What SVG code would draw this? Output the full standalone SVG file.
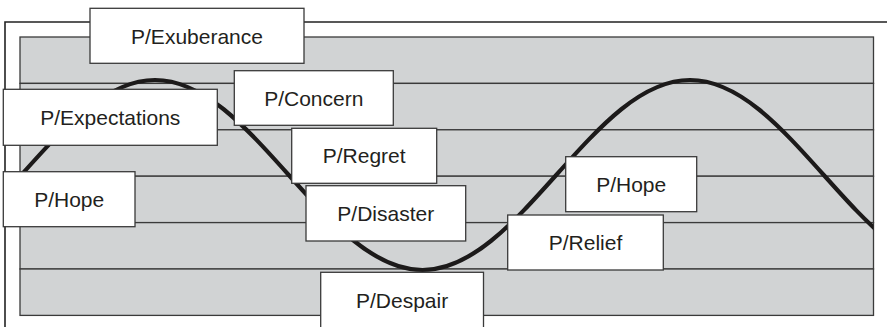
<svg xmlns="http://www.w3.org/2000/svg" width="887" height="327" viewBox="0 0 887 327">
<style>
.frame{fill:none;stroke:#222;stroke-width:1.6}
.band{fill:#d1d3d4;stroke:#3a3a3a;stroke-width:1.3}
.curve{fill:none;stroke:#1c1a1a;stroke-width:4.2}
.box rect{fill:#fff;stroke:#3a3a3a;stroke-width:1.3}
.box text{font-family:"Liberation Sans",Arial,Helvetica,sans-serif;font-size:21px;fill:#231f20;text-anchor:middle}
</style>
<defs>
<clipPath id="plot"><rect x="20" y="20" width="853.5" height="300"/></clipPath>
</defs>
<g id="background">
<path class="frame" d="M5,327 V22 H887"/>
<rect class="band" x="20" y="37" width="853.5" height="46.4"/>
<rect class="band" x="20" y="83.4" width="853.5" height="46.4"/>
<rect class="band" x="20" y="129.8" width="853.5" height="46.4"/>
<rect class="band" x="20" y="176.2" width="853.5" height="46.4"/>
<rect class="band" x="20" y="222.6" width="853.5" height="46.4"/>
<rect class="band" x="20" y="269" width="853.5" height="46.4"/>
</g>
<g id="connectors">
<path class="curve" clip-path="url(#plot)" d="M-112.5,270 C-64.1,270 -22.37,223.67 21.25,175 C64.87,126.33 106.6,80 155,80 C203.4,80 245.13,126.33 288.75,175 C332.37,223.67 374.1,270 422.5,270 C470.9,270 512.63,223.67 556.25,175 C599.87,126.33 641.6,80 690,80 C738.4,80 780.13,126.33 823.75,175 C867.37,223.67 909.1,270 957.5,270"/>
</g>
<g id="exuberance" class="box"><rect x="90" y="8.3" width="214" height="55"/><text x="197" y="43.8">P/Exuberance</text></g>
<g id="expectations" class="box"><rect x="3.3" y="89.3" width="214" height="56"/><text x="110.3" y="125">P/Expectations</text></g>
<g id="concern" class="box"><rect x="234.3" y="70.7" width="159" height="54.6"/><text x="313.8" y="105.5">P/Concern</text></g>
<g id="regret" class="box"><rect x="291.7" y="128.3" width="145" height="55"/><text x="364.2" y="163.3">P/Regret</text></g>
<g id="hope-left" class="box"><rect x="3.3" y="171.7" width="131.7" height="55"/><text x="69.2" y="206.7">P/Hope</text></g>
<g id="disaster" class="box"><rect x="306" y="185.7" width="159.7" height="55.3"/><text x="385.8" y="220.8">P/Disaster</text></g>
<g id="hope-right" class="box"><rect x="565.7" y="156.7" width="131" height="55"/><text x="631.2" y="191.7">P/Hope</text></g>
<g id="relief" class="box"><rect x="507.7" y="215" width="155.6" height="55"/><text x="585.5" y="250">P/Relief</text></g>
<g id="despair" class="box"><rect x="320.7" y="272.3" width="162.8" height="56"/><text x="402.1" y="307.5">P/Despair</text></g>
</svg>
